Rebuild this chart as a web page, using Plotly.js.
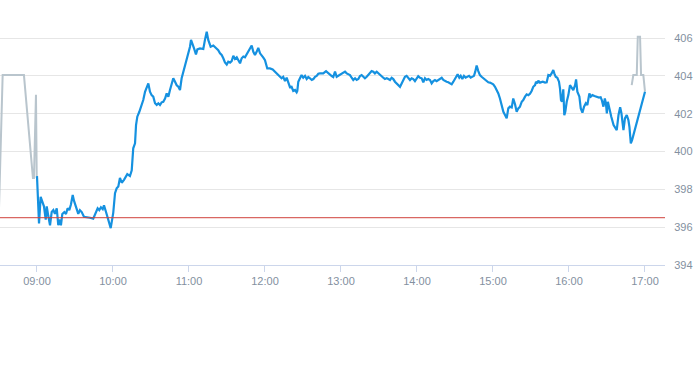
<!DOCTYPE html>
<html>
<head>
<meta charset="utf-8">
<script src="https://cdn.plot.ly/plotly-3.0.1.min.js"></script>
<style>
html,body{margin:0;padding:0;background:#fff;}
#chart{width:693px;height:365px;}
</style>
</head>
<body>
<div id="chart"></div>
<script>
// minutes relative to 09:00 (session open)
const preMin   = [-30, -27.1, -10.3, -3.2, -2.4, -0.8, -0.2];
const preVal   = [397.0, 404.04, 404.04, 398.6, 398.6, 403.0, 398.6];

const sessMin = [0,1.6,2.9,4.5,5.5,6.9,7.7,8.9,10.3,11.6,12.9,14.2,15.6,16.8,18.2,18.9,20.0,21.6,22.9,24.2,25.5,26.8,28.2,29.2,30.8,32.6,33.9,35.3,37.1,39.7,41.8,44.4,46.3,47.9,49.2,50.5,51.9,52.9,54.5,56.3,58.2,60.2,61.6,62.9,64.2,65.5,66.9,68.7,71.3,73.4,74.8,76.0,77.4,78.2,79.2,80.8,82.7,83.9,85.3,86.6,87.9,89.2,90.5,91.8,93.2,94.5,95.8,97.1,98.4,99.7,101.1,102.4,103.7,105.0,106.3,107.6,108.9,110.3,111.6,112.9,114.2,115.5,116.8,118.2,119.4,120.8,121.6,122.9,124.0,125.5,126.6,128.7,131.3,132.6,134.0,135.2,137.1,139.2,141.3,143.1,144.5,145.8,147.1,148.4,149.8,151.0,152.4,153.7,155.0,156.3,157.7,158.9,160.3,161.6,162.9,164.2,165.5,166.8,168.2,169.5,170.8,172.1,173.4,174.7,176.1,177.4,178.7,180.0,181.8,183.9,186.1,187.9,189.7,191.8,193.1,194.4,195.8,197.1,198.4,199.7,201.0,202.3,203.7,205.0,205.5,206.3,207.6,208.9,210.2,211.6,212.9,214.2,215.5,216.9,218.2,219.5,220.8,222.1,223.4,226.0,228.2,230.0,231.3,232.7,233.9,235.3,236.6,237.9,239.2,240.5,241.8,243.2,244.5,245.8,247.1,248.4,249.7,251.1,252.4,253.7,255.0,256.3,257.6,258.9,260.3,261.6,262.9,264.2,265.5,266.8,268.2,269.5,270.8,272.1,273.4,274.7,276.1,277.4,278.7,280.0,281.3,282.6,283.9,285.2,286.6,287.9,289.2,290.5,291.8,293.1,294.5,295.8,297.1,298.4,299.7,301.0,302.4,303.7,305.0,306.3,307.6,308.9,310.3,311.6,312.9,314.2,315.5,316.8,318.2,319.5,320.8,322.1,323.4,324.7,326.1,327.4,328.7,330.0,331.3,332.1,333.4,334.5,335.8,337.1,338.4,339.7,341.1,342.4,343.7,345.0,346.0,347.1,348.4,349.7,351.0,352.3,353.7,355.0,356.3,357.6,358.9,360.2,361.6,362.9,364.2,365.5,366.9,368.2,369.5,370.8,372.1,373.4,374.8,376.0,377.4,378.7,380.0,381.3,382.7,383.9,385.3,386.6,387.9,389.2,390.5,391.8,393.2,394.0,395.0,395.8,397.1,399.3,401.1,402.4,403.7,405.0,406.3,407.6,408.4,409.5,410.8,412.1,412.9,413.7,414.5,415.5,416.3,417.1,418.2,419.5,420.8,422.2,423.4,424.8,425.6,426.6,428.2,429.3,430.6,431.9,433.3,434.5,435.3,436.1,437.2,438.5,440.1,441.9,443.7,445.0,445.9,447.2,448.3,449.1,449.9,450.7,451.5,452.5,453.4,455.2,456.5,457.7,459.1,460.4,461.4,462.2,463.0,464.2,465.6,466.9,467.7,468.8,469.8,480.0];
const sessVal = [398.7,396.2,397.6,397.3,397.1,396.4,397.1,396.6,396.1,396.8,396.9,396.7,397.0,396.1,396.4,396.1,396.7,396.8,396.7,397.0,396.9,397.2,397.7,397.4,397.0,396.7,396.9,396.8,396.55,396.5,396.5,396.45,396.8,397.0,396.9,397.05,396.95,397.15,396.8,396.4,395.95,396.75,397.8,398.05,398.15,398.6,398.35,398.5,398.8,398.7,399.0,400.17,400.43,401.4,401.84,402.1,402.46,402.72,403.16,403.34,403.6,403.16,402.98,402.9,402.55,402.46,402.55,402.46,402.6,402.63,402.8,403.07,402.9,403.25,403.6,403.87,403.7,403.5,403.42,403.25,403.87,404.2,404.48,404.83,405.27,405.54,405.9,405.7,405.45,405.13,405.4,405.45,405.42,405.9,406.33,405.9,405.54,405.6,405.45,405.36,405.19,405.1,404.93,404.71,404.6,404.75,404.7,404.78,405.06,404.89,404.98,404.83,404.66,404.93,405.02,404.98,405.14,405.27,405.42,405.6,405.27,405.1,405.27,405.48,405.19,405.1,404.96,404.83,404.39,404.39,404.34,404.22,404.08,403.95,403.87,403.95,403.72,403.9,403.6,403.4,403.42,403.2,403.25,403.13,403.2,403.69,403.87,404.04,403.9,404.0,403.83,403.94,403.87,403.78,403.83,403.95,404.0,404.11,404.13,404.13,404.25,404.13,404.04,403.99,403.94,404.22,403.95,404.0,404.08,404.13,404.18,404.22,404.13,404.08,404.04,403.9,403.78,403.87,403.78,403.83,403.99,404.04,403.94,403.87,403.95,404.04,404.18,404.25,404.22,404.13,404.22,404.13,404.04,403.95,403.9,403.83,403.87,403.83,403.78,403.9,403.83,403.69,403.6,403.51,403.42,403.6,403.83,403.95,404.0,403.9,403.78,403.87,403.83,403.72,403.83,403.98,403.9,403.87,403.66,403.87,403.78,403.83,403.78,403.6,403.72,403.78,403.72,403.78,403.83,403.9,403.78,403.72,403.69,403.66,403.6,403.55,403.69,403.83,403.95,404.08,403.9,404.0,403.83,404.0,403.9,403.95,404.0,403.9,403.95,404.0,404.22,404.54,404.25,404.04,403.95,403.87,403.78,403.69,403.66,403.64,403.6,403.55,403.42,403.25,403.07,402.8,402.37,402.1,401.93,401.75,402.28,402.37,402.33,402.8,402.5,402.1,402.28,402.37,402.63,402.72,402.9,403.02,402.98,403.05,403.2,403.42,403.51,403.69,403.6,403.75,403.64,403.69,403.64,403.66,404.04,404.0,404.13,404.31,404.13,403.95,403.9,403.69,403.34,402.72,402.63,403.29,401.92,402.1,402.63,402.98,403.51,403.34,403.25,403.51,403.81,403.16,402.9,402.28,402.05,402.37,402.55,402.46,402.8,403.07,402.9,402.98,402.93,402.9,402.85,402.87,402.72,402.37,402.8,402.57,402.02,402.63,402.37,402.02,401.84,401.4,401.22,401.13,401.93,402.34,402.02,401.49,401.13,401.75,401.93,401.66,401.31,400.43,400.6,403.16];

const postMin = [469.5, 470.8, 473.5, 474.3, 476.1, 476.9, 478.7, 480.0];
const postVal = [403.51, 404.04, 404.04, 406.07, 406.07, 404.04, 404.04, 403.16];

const prevClose = 396.5;

const xTickVals = [0, 60, 120, 180, 240, 300, 360, 420, 480];
const xTickText = ['09:00','10:00','11:00','12:00','13:00','14:00','15:00','16:00','17:00'];
const yTickVals = [394, 396, 398, 400, 402, 404, 406];
const yTickText = ['394','396','398','400','402','404','406'];

const grayLine = {color:'#b9c5cd', width:2};
const traces = [
  {x: preMin, y: preVal, type:'scatter', mode:'lines', line: grayLine, hoverinfo:'skip'},
  {x: postMin, y: postVal, type:'scatter', mode:'lines', line: grayLine, hoverinfo:'skip'},
  {x: sessMin, y: sessVal, type:'scatter', mode:'lines', line:{color:'#1591e0', width:2.2}, hoverinfo:'skip'}
];

const labelFont = {family:'"Liberation Sans", Arial, sans-serif', size:11, color:'#8390a0'};

const layout = {
  width: 693, height: 365,
  margin: {l:0, r:28, t:10, b:100, pad:0},
  paper_bgcolor:'#ffffff', plot_bgcolor:'#ffffff',
  showlegend:false,
  xaxis: {
    range:[-29.2, 495.8], tickmode:'array', tickvals:xTickVals, ticktext:xTickText,
    showgrid:false, zeroline:false, showline:true, linecolor:'#ccd6eb', linewidth:1,
    ticks:'outside', ticklen:6, tickcolor:'#ccd6eb', tickwidth:1,
    tickfont: labelFont, fixedrange:true
  },
  yaxis: {
    side:'right', range:[394, 407.48], tickmode:'array', tickvals:yTickVals, ticktext:yTickText,
    showgrid:true, gridcolor:'#e6e6e6', gridwidth:1, zeroline:false, showline:false,
    ticks:'outside', ticklen:6, tickcolor:'rgba(0,0,0,0)',
    tickfont: labelFont, fixedrange:true
  },
  shapes: [
    {type:'line', xref:'paper', x0:0, x1:1, yref:'y', y0:prevClose, y1:prevClose,
     line:{color:'#d0403a', width:1}, layer:'above'}
  ]
};

Plotly.newPlot('chart', traces, layout, {displayModeBar:false, staticPlot:true});
</script>
</body>
</html>
